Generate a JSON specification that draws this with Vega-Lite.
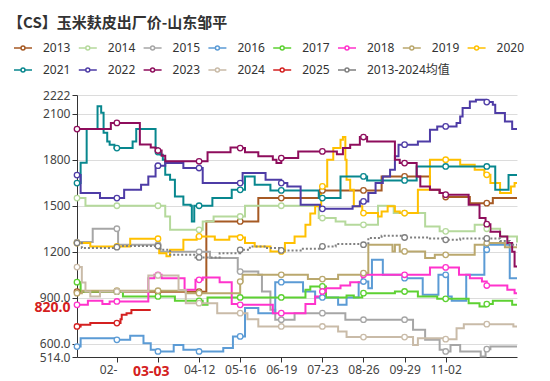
{
"$schema": "https://vega.github.io/schema/vega-lite/v6.json",
"width": 440, "height": 262,
"autosize": {"type": "none"},
"padding": {"left": 77, "top": 95, "right": 33, "bottom": 24},
"background": "white",
"config": {"view": {"stroke": null}, "font": "Noto Sans, Noto Sans CJK SC", "axis": {"labelFont": "Noto Sans, Noto Sans CJK SC", "labelColor": "#444", "domainColor": "#333", "tickColor": "#333", "gridColor": "#dcdcdc", "labelOverlap": false}},
"title": {"text": "【CS】玉米麸皮出厂价-山东邹平", "anchor": "start", "frame": "group", "dx": -69, "offset": 7, "font": "Noto Sans CJK SC", "fontSize": 15, "fontWeight": "bold", "color": "#333"},
"data": {"format": {"parse": {"d": "utc:'%m-%d'"}}, "values": [
{"s":"2013","d":"01-01","v":940},{"s":"2013","d":"02-03","v":940},{"s":"2013","d":"03-09","v":940},{"s":"2013","d":"04-12","v":940},{"s":"2013","d":"04-18","v":1398},{"s":"2013","d":"05-16","v":1398},{"s":"2013","d":"05-31","v":1550},{"s":"2013","d":"06-19","v":1550},{"s":"2013","d":"07-21","v":1600},{"s":"2013","d":"07-23","v":1600},{"s":"2013","d":"08-26","v":1600},{"s":"2013","d":"09-10","v":1691},{"s":"2013","d":"09-29","v":1691},{"s":"2013","d":"10-20","v":1604},{"s":"2013","d":"10-28","v":1583},{"s":"2013","d":"11-01","v":1557},{"s":"2013","d":"11-02","v":1557},{"s":"2013","d":"11-22","v":1517},{"s":"2013","d":"12-06","v":1517},{"s":"2013","d":"12-11","v":1550},{"s":"2013","d":"12-31","v":1550},
{"s":"2014","d":"01-01","v":1550},{"s":"2014","d":"01-08","v":1500},{"s":"2014","d":"02-03","v":1500},{"s":"2014","d":"03-09","v":1500},{"s":"2014","d":"03-15","v":1430},{"s":"2014","d":"03-19","v":1343},{"s":"2014","d":"04-12","v":1343},{"s":"2014","d":"04-15","v":1398},{"s":"2014","d":"04-24","v":1430},{"s":"2014","d":"05-16","v":1430},{"s":"2014","d":"05-20","v":1500},{"s":"2014","d":"06-19","v":1500},{"s":"2014","d":"07-20","v":1420},{"s":"2014","d":"07-23","v":1420},{"s":"2014","d":"08-03","v":1398},{"s":"2014","d":"08-11","v":1376},{"s":"2014","d":"08-26","v":1376},{"s":"2014","d":"09-07","v":1500},{"s":"2014","d":"09-20","v":1452},{"s":"2014","d":"09-29","v":1452},{"s":"2014","d":"10-16","v":1365},{"s":"2014","d":"10-28","v":1333},{"s":"2014","d":"11-02","v":1333},{"s":"2014","d":"11-26","v":1376},{"s":"2014","d":"12-06","v":1350},{"s":"2014","d":"12-17","v":1300},{"s":"2014","d":"12-31","v":1260},
{"s":"2015","d":"01-01","v":1263},{"s":"2015","d":"01-14","v":1350},{"s":"2015","d":"02-03","v":1350},{"s":"2015","d":"02-04","v":1246},{"s":"2015","d":"03-09","v":1246},{"s":"2015","d":"03-11","v":1200},{"s":"2015","d":"04-12","v":1200},{"s":"2015","d":"04-21","v":1159},{"s":"2015","d":"05-14","v":1071},{"s":"2015","d":"05-16","v":1071},{"s":"2015","d":"05-31","v":1050},{"s":"2015","d":"06-03","v":941},{"s":"2015","d":"06-10","v":822},{"s":"2015","d":"06-14","v":757},{"s":"2015","d":"06-19","v":757},{"s":"2015","d":"06-30","v":800},{"s":"2015","d":"07-23","v":800},{"s":"2015","d":"08-11","v":757},{"s":"2015","d":"08-26","v":757},{"s":"2015","d":"09-29","v":757},{"s":"2015","d":"10-06","v":691},{"s":"2015","d":"10-16","v":626},{"s":"2015","d":"10-28","v":561},{"s":"2015","d":"11-02","v":550},{"s":"2015","d":"11-06","v":593},{"s":"2015","d":"11-14","v":550},{"s":"2015","d":"12-01","v":517},{"s":"2015","d":"12-05","v":565},{"s":"2015","d":"12-06","v":565},{"s":"2015","d":"12-09","v":582},{"s":"2015","d":"12-31","v":582},
{"s":"2016","d":"01-01","v":582},{"s":"2016","d":"01-04","v":637},{"s":"2016","d":"02-03","v":626},{"s":"2016","d":"02-14","v":652},{"s":"2016","d":"02-25","v":604},{"s":"2016","d":"03-03","v":561},{"s":"2016","d":"03-08","v":550},{"s":"2016","d":"03-09","v":550},{"s":"2016","d":"03-22","v":593},{"s":"2016","d":"03-30","v":561},{"s":"2016","d":"04-12","v":550},{"s":"2016","d":"05-02","v":572},{"s":"2016","d":"05-10","v":648},{"s":"2016","d":"05-16","v":648},{"s":"2016","d":"05-20","v":833},{"s":"2016","d":"05-31","v":800},{"s":"2016","d":"06-14","v":1002},{"s":"2016","d":"06-19","v":1002},{"s":"2016","d":"07-07","v":941},{"s":"2016","d":"07-17","v":902},{"s":"2016","d":"07-23","v":902},{"s":"2016","d":"08-05","v":854},{"s":"2016","d":"08-12","v":902},{"s":"2016","d":"08-22","v":1002},{"s":"2016","d":"08-26","v":1006},{"s":"2016","d":"08-30","v":963},{"s":"2016","d":"09-02","v":1148},{"s":"2016","d":"09-11","v":1050},{"s":"2016","d":"09-29","v":1028},{"s":"2016","d":"10-14","v":920},{"s":"2016","d":"10-27","v":1050},{"s":"2016","d":"11-02","v":1050},{"s":"2016","d":"11-04","v":909},{"s":"2016","d":"11-07","v":880},{"s":"2016","d":"11-19","v":1050},{"s":"2016","d":"12-04","v":1246},{"s":"2016","d":"12-06","v":1213},{"s":"2016","d":"12-07","v":1246},{"s":"2016","d":"12-25","v":1028},{"s":"2016","d":"12-31","v":1028},
{"s":"2017","d":"01-01","v":1002},{"s":"2017","d":"01-04","v":941},{"s":"2017","d":"02-03","v":941},{"s":"2017","d":"02-08","v":909},{"s":"2017","d":"03-09","v":909},{"s":"2017","d":"03-23","v":880},{"s":"2017","d":"04-12","v":880},{"s":"2017","d":"04-15","v":854},{"s":"2017","d":"04-19","v":902},{"s":"2017","d":"05-16","v":902},{"s":"2017","d":"06-19","v":902},{"s":"2017","d":"07-09","v":952},{"s":"2017","d":"07-13","v":974},{"s":"2017","d":"07-23","v":974},{"s":"2017","d":"07-26","v":902},{"s":"2017","d":"08-12","v":915},{"s":"2017","d":"08-18","v":902},{"s":"2017","d":"08-25","v":930},{"s":"2017","d":"08-26","v":930},{"s":"2017","d":"09-21","v":941},{"s":"2017","d":"09-29","v":941},{"s":"2017","d":"10-10","v":909},{"s":"2017","d":"10-26","v":893},{"s":"2017","d":"11-02","v":893},{"s":"2017","d":"11-21","v":865},{"s":"2017","d":"11-30","v":843},{"s":"2017","d":"12-05","v":859},{"s":"2017","d":"12-06","v":859},{"s":"2017","d":"12-11","v":880},{"s":"2017","d":"12-27","v":854},{"s":"2017","d":"12-31","v":854},
{"s":"2018","d":"01-01","v":854},{"s":"2018","d":"01-10","v":880},{"s":"2018","d":"01-22","v":859},{"s":"2018","d":"01-28","v":876},{"s":"2018","d":"02-03","v":876},{"s":"2018","d":"03-01","v":1028},{"s":"2018","d":"03-06","v":1050},{"s":"2018","d":"03-09","v":1050},{"s":"2018","d":"03-12","v":1028},{"s":"2018","d":"03-31","v":952},{"s":"2018","d":"04-09","v":1017},{"s":"2018","d":"04-12","v":1017},{"s":"2018","d":"04-15","v":1033},{"s":"2018","d":"04-29","v":1002},{"s":"2018","d":"05-09","v":859},{"s":"2018","d":"05-16","v":854},{"s":"2018","d":"06-12","v":800},{"s":"2018","d":"06-19","v":800},{"s":"2018","d":"07-09","v":859},{"s":"2018","d":"07-17","v":909},{"s":"2018","d":"07-22","v":941},{"s":"2018","d":"07-23","v":941},{"s":"2018","d":"07-26","v":963},{"s":"2018","d":"08-07","v":980},{"s":"2018","d":"08-15","v":1002},{"s":"2018","d":"08-25","v":1050},{"s":"2018","d":"08-26","v":1050},{"s":"2018","d":"09-29","v":1050},{"s":"2018","d":"10-20","v":1098},{"s":"2018","d":"11-02","v":1098},{"s":"2018","d":"11-13","v":1050},{"s":"2018","d":"11-22","v":1028},{"s":"2018","d":"12-02","v":1006},{"s":"2018","d":"12-06","v":980},{"s":"2018","d":"12-23","v":952},{"s":"2018","d":"12-29","v":930},{"s":"2018","d":"12-31","v":930},
{"s":"2019","d":"01-01","v":930},{"s":"2019","d":"01-05","v":946},{"s":"2019","d":"02-03","v":946},{"s":"2019","d":"03-09","v":946},{"s":"2019","d":"04-01","v":930},{"s":"2019","d":"04-12","v":930},{"s":"2019","d":"05-14","v":930},{"s":"2019","d":"05-16","v":1006},{"s":"2019","d":"05-18","v":1050},{"s":"2019","d":"06-19","v":1050},{"s":"2019","d":"07-11","v":1022},{"s":"2019","d":"07-23","v":1022},{"s":"2019","d":"08-05","v":1050},{"s":"2019","d":"08-25","v":1061},{"s":"2019","d":"08-26","v":1061},{"s":"2019","d":"08-30","v":1246},{"s":"2019","d":"09-19","v":1202},{"s":"2019","d":"09-21","v":1246},{"s":"2019","d":"09-25","v":1202},{"s":"2019","d":"09-29","v":1202},{"s":"2019","d":"10-16","v":1159},{"s":"2019","d":"10-24","v":1180},{"s":"2019","d":"11-02","v":1180},{"s":"2019","d":"11-26","v":1246},{"s":"2019","d":"12-06","v":1257},{"s":"2019","d":"12-21","v":1230},{"s":"2019","d":"12-31","v":1230},
{"s":"2020","d":"01-01","v":1257},{"s":"2020","d":"01-12","v":1235},{"s":"2020","d":"02-03","v":1235},{"s":"2020","d":"02-14","v":1285},{"s":"2020","d":"03-09","v":1285},{"s":"2020","d":"03-10","v":1191},{"s":"2020","d":"03-16","v":1170},{"s":"2020","d":"03-19","v":1213},{"s":"2020","d":"03-30","v":1278},{"s":"2020","d":"04-10","v":1300},{"s":"2020","d":"04-12","v":1300},{"s":"2020","d":"04-25","v":1278},{"s":"2020","d":"05-07","v":1300},{"s":"2020","d":"05-16","v":1293},{"s":"2020","d":"05-20","v":1257},{"s":"2020","d":"05-28","v":1235},{"s":"2020","d":"06-10","v":1202},{"s":"2020","d":"06-19","v":1202},{"s":"2020","d":"06-22","v":1257},{"s":"2020","d":"06-30","v":1300},{"s":"2020","d":"07-09","v":1376},{"s":"2020","d":"07-13","v":1450},{"s":"2020","d":"07-17","v":1496},{"s":"2020","d":"07-22","v":1626},{"s":"2020","d":"07-23","v":1626},{"s":"2020","d":"07-27","v":1800},{"s":"2020","d":"08-01","v":1876},{"s":"2020","d":"08-07","v":1930},{"s":"2020","d":"08-09","v":1948},{"s":"2020","d":"08-11","v":1800},{"s":"2020","d":"08-12","v":1670},{"s":"2020","d":"08-15","v":1604},{"s":"2020","d":"08-18","v":1496},{"s":"2020","d":"08-25","v":1463},{"s":"2020","d":"08-26","v":1452},{"s":"2020","d":"09-07","v":1430},{"s":"2020","d":"09-10","v":1463},{"s":"2020","d":"09-15","v":1496},{"s":"2020","d":"09-21","v":1463},{"s":"2020","d":"09-25","v":1452},{"s":"2020","d":"09-29","v":1452},{"s":"2020","d":"10-10","v":1604},{"s":"2020","d":"10-20","v":1800},{"s":"2020","d":"11-02","v":1800},{"s":"2020","d":"11-14","v":1767},{"s":"2020","d":"11-26","v":1735},{"s":"2020","d":"12-04","v":1702},{"s":"2020","d":"12-06","v":1702},{"s":"2020","d":"12-09","v":1648},{"s":"2020","d":"12-17","v":1583},{"s":"2020","d":"12-26","v":1626},{"s":"2020","d":"12-29","v":1648},{"s":"2020","d":"12-31","v":1648},
{"s":"2021","d":"01-01","v":1648},{"s":"2021","d":"01-04","v":1780},{"s":"2021","d":"01-09","v":2000},{"s":"2021","d":"01-18","v":2148},{"s":"2021","d":"01-21","v":2106},{"s":"2021","d":"01-23","v":1976},{"s":"2021","d":"01-26","v":1919},{"s":"2021","d":"01-28","v":1898},{"s":"2021","d":"02-01","v":1876},{"s":"2021","d":"02-03","v":1876},{"s":"2021","d":"02-16","v":1919},{"s":"2021","d":"02-19","v":2000},{"s":"2021","d":"03-04","v":2000},{"s":"2021","d":"03-07","v":1876},{"s":"2021","d":"03-09","v":1850},{"s":"2021","d":"03-11","v":1833},{"s":"2021","d":"03-13","v":1800},{"s":"2021","d":"03-15","v":1702},{"s":"2021","d":"03-19","v":1670},{"s":"2021","d":"03-23","v":1561},{"s":"2021","d":"03-30","v":1506},{"s":"2021","d":"04-05","v":1500},{"s":"2021","d":"04-06","v":1398},{"s":"2021","d":"04-08","v":1500},{"s":"2021","d":"04-12","v":1500},{"s":"2021","d":"04-23","v":1550},{"s":"2021","d":"05-09","v":1604},{"s":"2021","d":"05-16","v":1604},{"s":"2021","d":"05-20","v":1691},{"s":"2021","d":"05-28","v":1637},{"s":"2021","d":"06-10","v":1600},{"s":"2021","d":"06-19","v":1600},{"s":"2021","d":"07-20","v":1550},{"s":"2021","d":"07-23","v":1550},{"s":"2021","d":"08-07","v":1691},{"s":"2021","d":"08-26","v":1691},{"s":"2021","d":"08-29","v":1665},{"s":"2021","d":"09-29","v":1665},{"s":"2021","d":"10-09","v":1756},{"s":"2021","d":"11-02","v":1756},{"s":"2021","d":"12-06","v":1756},{"s":"2021","d":"12-13","v":1604},{"s":"2021","d":"12-24","v":1700},{"s":"2021","d":"12-31","v":1700},
{"s":"2022","d":"01-01","v":1700},{"s":"2022","d":"01-04","v":1583},{"s":"2022","d":"01-20","v":1550},{"s":"2022","d":"02-03","v":1550},{"s":"2022","d":"02-09","v":1604},{"s":"2022","d":"02-23","v":1637},{"s":"2022","d":"03-01","v":1691},{"s":"2022","d":"03-07","v":1761},{"s":"2022","d":"03-09","v":1761},{"s":"2022","d":"03-15","v":1778},{"s":"2022","d":"03-30","v":1746},{"s":"2022","d":"04-12","v":1746},{"s":"2022","d":"04-15","v":1648},{"s":"2022","d":"05-16","v":1648},{"s":"2022","d":"05-18","v":1713},{"s":"2022","d":"06-06","v":1670},{"s":"2022","d":"06-19","v":1648},{"s":"2022","d":"06-24","v":1626},{"s":"2022","d":"07-05","v":1506},{"s":"2022","d":"07-21","v":1480},{"s":"2022","d":"07-23","v":1480},{"s":"2022","d":"08-17","v":1496},{"s":"2022","d":"08-23","v":1528},{"s":"2022","d":"08-26","v":1528},{"s":"2022","d":"08-30","v":1583},{"s":"2022","d":"09-05","v":1648},{"s":"2022","d":"09-11","v":1691},{"s":"2022","d":"09-17","v":1735},{"s":"2022","d":"09-21","v":1822},{"s":"2022","d":"09-24","v":1898},{"s":"2022","d":"09-29","v":1898},{"s":"2022","d":"10-10","v":1919},{"s":"2022","d":"10-20","v":1996},{"s":"2022","d":"10-26","v":2017},{"s":"2022","d":"11-02","v":2017},{"s":"2022","d":"11-11","v":2039},{"s":"2022","d":"11-14","v":2082},{"s":"2022","d":"11-16","v":2137},{"s":"2022","d":"11-22","v":2180},{"s":"2022","d":"11-27","v":2191},{"s":"2022","d":"12-05","v":2176},{"s":"2022","d":"12-06","v":2176},{"s":"2022","d":"12-11","v":2159},{"s":"2022","d":"12-13","v":2105},{"s":"2022","d":"12-21","v":2050},{"s":"2022","d":"12-27","v":2000},{"s":"2022","d":"12-31","v":2000},
{"s":"2023","d":"01-01","v":2000},{"s":"2023","d":"01-28","v":2000},{"s":"2023","d":"01-29","v":2040},{"s":"2023","d":"02-03","v":2040},{"s":"2023","d":"02-22","v":1900},{"s":"2023","d":"03-03","v":1880},{"s":"2023","d":"03-07","v":1860},{"s":"2023","d":"03-09","v":1860},{"s":"2023","d":"03-12","v":1826},{"s":"2023","d":"03-15","v":1790},{"s":"2023","d":"04-12","v":1790},{"s":"2023","d":"04-19","v":1848},{"s":"2023","d":"05-08","v":1880},{"s":"2023","d":"05-16","v":1876},{"s":"2023","d":"05-20","v":1848},{"s":"2023","d":"05-31","v":1822},{"s":"2023","d":"06-12","v":1800},{"s":"2023","d":"06-15","v":1778},{"s":"2023","d":"06-19","v":1811},{"s":"2023","d":"07-03","v":1854},{"s":"2023","d":"07-23","v":1854},{"s":"2023","d":"08-04","v":1835},{"s":"2023","d":"08-09","v":1876},{"s":"2023","d":"08-15","v":1898},{"s":"2023","d":"08-23","v":1948},{"s":"2023","d":"08-26","v":1948},{"s":"2023","d":"08-29","v":1919},{"s":"2023","d":"09-21","v":1800},{"s":"2023","d":"09-25","v":1778},{"s":"2023","d":"09-29","v":1778},{"s":"2023","d":"10-09","v":1691},{"s":"2023","d":"10-12","v":1626},{"s":"2023","d":"10-20","v":1604},{"s":"2023","d":"10-28","v":1583},{"s":"2023","d":"11-02","v":1572},{"s":"2023","d":"11-21","v":1506},{"s":"2023","d":"11-30","v":1420},{"s":"2023","d":"12-05","v":1376},{"s":"2023","d":"12-06","v":1380},{"s":"2023","d":"12-09","v":1330},{"s":"2023","d":"12-17","v":1300},{"s":"2023","d":"12-23","v":1257},{"s":"2023","d":"12-27","v":1200},{"s":"2023","d":"12-29","v":1104},{"s":"2023","d":"12-31","v":1104},
{"s":"2024","d":"01-01","v":1100},{"s":"2024","d":"01-05","v":1000},{"s":"2024","d":"01-08","v":941},{"s":"2024","d":"01-12","v":909},{"s":"2024","d":"01-20","v":941},{"s":"2024","d":"02-03","v":941},{"s":"2024","d":"03-01","v":1046},{"s":"2024","d":"03-09","v":1046},{"s":"2024","d":"03-26","v":950},{"s":"2024","d":"04-01","v":865},{"s":"2024","d":"04-12","v":865},{"s":"2024","d":"04-27","v":800},{"s":"2024","d":"05-16","v":800},{"s":"2024","d":"05-22","v":760},{"s":"2024","d":"05-31","v":713},{"s":"2024","d":"06-19","v":713},{"s":"2024","d":"07-23","v":713},{"s":"2024","d":"08-05","v":680},{"s":"2024","d":"08-12","v":644},{"s":"2024","d":"08-26","v":644},{"s":"2024","d":"09-29","v":644},{"s":"2024","d":"10-06","v":593},{"s":"2024","d":"10-10","v":637},{"s":"2024","d":"11-02","v":630},{"s":"2024","d":"11-11","v":702},{"s":"2024","d":"11-17","v":728},{"s":"2024","d":"12-06","v":728},{"s":"2024","d":"12-28","v":713},{"s":"2024","d":"12-31","v":713},
{"s":"2025","d":"01-01","v":713},{"s":"2025","d":"01-04","v":724},{"s":"2025","d":"01-12","v":735},{"s":"2025","d":"02-03","v":735},{"s":"2025","d":"02-06","v":760},{"s":"2025","d":"02-07","v":789},{"s":"2025","d":"02-11","v":800},{"s":"2025","d":"02-15","v":820},{"s":"2025","d":"03-03","v":820},
{"s":"2013-2024均值","d":"01-01","v":1257},{"s":"2013-2024均值","d":"01-05","v":1224},{"s":"2013-2024均值","d":"02-03","v":1230},{"s":"2013-2024均值","d":"02-05","v":1237},{"s":"2013-2024均值","d":"03-09","v":1237},{"s":"2013-2024均值","d":"03-11","v":1213},{"s":"2013-2024均值","d":"03-19","v":1180},{"s":"2013-2024均值","d":"04-09","v":1163},{"s":"2013-2024均值","d":"04-12","v":1163},{"s":"2013-2024均值","d":"04-29","v":1190},{"s":"2013-2024均值","d":"05-16","v":1213},{"s":"2013-2024均值","d":"05-24","v":1235},{"s":"2013-2024均值","d":"06-06","v":1225},{"s":"2013-2024均值","d":"06-19","v":1209},{"s":"2013-2024均值","d":"07-05","v":1220},{"s":"2013-2024均值","d":"07-23","v":1235},{"s":"2013-2024均值","d":"08-03","v":1250},{"s":"2013-2024均值","d":"08-26","v":1246},{"s":"2013-2024均值","d":"08-30","v":1290},{"s":"2013-2024均值","d":"09-10","v":1304},{"s":"2013-2024均值","d":"09-29","v":1293},{"s":"2013-2024均值","d":"10-20","v":1287},{"s":"2013-2024均值","d":"11-02","v":1278},{"s":"2013-2024均值","d":"11-14","v":1287},{"s":"2013-2024均值","d":"12-06","v":1287},{"s":"2013-2024均值","d":"12-17","v":1270},{"s":"2013-2024均值","d":"12-25","v":1246},{"s":"2013-2024均值","d":"12-31","v":1246}
]},
"encoding": {
  "x": {"field": "d", "type": "temporal",
   "scale": {"type": "utc", "domain": [{"year": 1900, "month": 1, "date": 1, "utc": true}, {"year": 1900, "month": 12, "date": 31, "utc": true}]},
   "axis": {"title": null, "grid": false, "labelOverlap": false, "labelFlush": false, "tickSize": 5, "tickCount": 30,
    "values": [{"year": 1900, "month": 2, "date": 3, "utc": true}, {"year": 1900, "month": 3, "date": 3, "utc": true}, {"year": 1900, "month": 3, "date": 9, "utc": true}, {"year": 1900, "month": 4, "date": 12, "utc": true}, {"year": 1900, "month": 5, "date": 16, "utc": true}, {"year": 1900, "month": 6, "date": 19, "utc": true}, {"year": 1900, "month": 7, "date": 23, "utc": true}, {"year": 1900, "month": 8, "date": 26, "utc": true}, {"year": 1900, "month": 9, "date": 29, "utc": true}, {"year": 1900, "month": 11, "date": 2, "utc": true}],
    "labelExpr": "utcFormat(datum.value, '%m-%d') == '02-03' ? '02-' : (utcFormat(datum.value, '%m-%d') == '03-09' ? '' : utcFormat(datum.value, '%m-%d'))",
    "labelAlign": {"condition": {"test": "utcFormat(datum.value, '%m-%d') == '02-03'", "value": "right"}, "value": "center"},
    "labelColor": {"condition": {"test": "utcFormat(datum.value, '%m-%d') == '03-03'", "value": "#d42020"}, "value": "#444"},
    "labelFontWeight": {"condition": {"test": "utcFormat(datum.value, '%m-%d') == '03-03'", "value": "bold"}, "value": "normal"},
    "labelFontSize": {"condition": {"test": "utcFormat(datum.value, '%m-%d') == '03-03'", "value": 14}, "value": 12},
    "tickOpacity": {"condition": {"test": "utcFormat(datum.value, '%m-%d') == '03-03'", "value": 0}, "value": 1}
   }
  },
  "y": {"field": "v", "type": "quantitative",
   "scale": {"domain": [514, 2222], "nice": false, "zero": false},
   "axis": {"title": null, "labelOverlap": false, "tickSize": 5, "tickCount": 30,
    "values": [514, 600, 820, 900, 1200, 1500, 1800, 2100, 2222],
    "labelExpr": "datum.value < 1000 ? format(datum.value, '.1f') : format(datum.value, 'd')",
    "labelColor": {"condition": {"test": "datum.value == 820", "value": "#d42020"}, "value": "#444"},
    "labelFontWeight": {"condition": {"test": "datum.value == 820", "value": "bold"}, "value": "normal"},
    "labelFontSize": {"condition": {"test": "datum.value == 820", "value": 14}, "value": 12},
    "labelOffset": {"condition": {"test": "datum.value == 820", "value": -3}, "value": 0},
    "gridOpacity": {"condition": {"test": "datum.value == 820 || datum.value == 514", "value": 0}, "value": 1},
    "tickOpacity": {"condition": {"test": "datum.value == 820", "value": 0}, "value": 1}
   }
  }
},
"layer": [
{
 "data": {"values": [{"t": "紫金天风期货"}]},
 "mark": {"type": "text", "font": "Noto Sans CJK SC", "fontSize": 22, "color": "#b4b4b4", "opacity": 0.8, "clip": false},
 "encoding": {
  "text": {"field": "t"},
  "x": {"datum": {"year": 1900, "month": 6, "date": 15, "utc": true}, "type": "temporal", "axis": {"labelOverlap": false, "tickCount": 30}},
  "y": {"datum": 1650, "type": "quantitative", "axis": {"labelOverlap": false, "tickCount": 30}}
 }
},
{
 "transform": [{"filter": {"field": "s", "oneOf": ["2013","2014","2015","2016","2017","2018","2019","2020"]}}],
 "mark": {"type": "line", "interpolate": "step-after", "strokeWidth": 2},
 "encoding": {
  "color": {
   "field": "s", "type": "nominal",
   "scale": {"domain": ["2013","2014","2015","2016","2017","2018","2019","2020"],
             "range": ["#a65a24","#b5d99c","#a6a6a6","#5b9bd5","#5dd132","#ff33cc","#baa86e","#ffc000"]},
   "legend": {
    "title": null, "orient": "none", "legendX": -64, "legendY": -57, "direction": "horizontal", "columns": 8,
    "columnPadding": 4.8, "padding": 0, "labelFontSize": 12, "labelColor": "#333", "labelFont": "Noto Sans, Noto Sans CJK SC",
    "symbolType": "M-1,0H-0.22M0.22,0H1M0.22,0A0.22,0.22,0,1,1,-0.22,0A0.22,0.22,0,1,1,0.22,0",
    "symbolSize": 324, "symbolStrokeWidth": 1.5, "labelOffset": 10,
    "encode": {"symbols": {"update": {"fill": {"value": "white"}, "opacity": {"value": 1}}}}
   }
  }
 }
},
{
 "transform": [{"filter": {"field": "s", "oneOf": ["2021","2022","2023","2024","2025","2013-2024均值"]}}],
 "mark": {"type": "line", "interpolate": "step-after", "strokeWidth": 2},
 "encoding": {
  "stroke": {
   "field": "s", "type": "nominal",
   "scale": {"domain": ["2021","2022","2023","2024","2025","2013-2024均值"],
             "range": ["#08878e","#4e3ca6","#8e0d5c","#c9bba8","#d42020","#808080"]},
   "legend": {
    "title": null, "orient": "none", "legendX": -64, "legendY": -35, "direction": "horizontal", "columns": 6,
    "columnPadding": 4.8, "padding": 0, "labelFontSize": 12, "labelColor": "#333", "labelFont": "Noto Sans, Noto Sans CJK SC",
    "symbolType": "M-1,0H-0.22M0.22,0H1M0.22,0A0.22,0.22,0,1,1,-0.22,0A0.22,0.22,0,1,1,0.22,0",
    "symbolSize": 324, "symbolStrokeWidth": 1.5, "labelOffset": 10,
    "encode": {"symbols": {"update": {"fill": {"value": "white"}, "strokeDash": {"value": []}, "strokeWidth": {"value": 1.5}, "opacity": {"value": 1}}}}
   }
  },
  "strokeDash": {"condition": {"test": "datum.s == '2013-2024均值'", "value": [2, 2]}, "value": [1, 0]},
  "strokeWidth": {"condition": {"test": "datum.s == '2025'", "value": 5}, "value": 2}
 }
},
{
 "transform": [{"filter": {"field": "s", "oneOf": ["2013","2014","2015","2016","2017","2018","2019","2020"]}},
               {"filter": "indexof(['01-01','02-03','03-09','04-12','05-16','06-19','07-23','08-26','09-29','11-02','12-06'], utcFormat(datum.d, '%m-%d')) >= 0"}],
 "mark": {"type": "point", "shape": "circle", "filled": false, "fill": "white", "size": 30, "strokeWidth": 1.3, "opacity": 1},
 "encoding": {"color": {"field": "s", "type": "nominal"}}
},
{
 "transform": [{"filter": {"field": "s", "oneOf": ["2021","2022","2023","2024","2025","2013-2024均值"]}},
               {"filter": "indexof(['01-01','02-03','03-09','04-12','05-16','06-19','07-23','08-26','09-29','11-02','12-06'], utcFormat(datum.d, '%m-%d')) >= 0"}],
 "mark": {"type": "point", "shape": "circle", "filled": false, "fill": "white", "size": 30, "strokeWidth": 1.3, "opacity": 1},
 "encoding": {"stroke": {"field": "s", "type": "nominal"}}
},
{
 "data": {"values": [{}]},
 "mark": {"type": "rule", "color": "#aaaaaa", "strokeWidth": 1, "clip": false},
 "encoding": {
  "x": {"datum": {"year": 1899, "month": 11, "date": 7, "utc": true}, "type": "temporal", "axis": {"labelOverlap": false, "tickCount": 30}},
  "x2": {"datum": {"year": 1901, "month": 1, "date": 19, "utc": true}},
  "y": {"datum": 2598, "type": "quantitative", "axis": {"labelOverlap": false, "tickCount": 30}}
 }
}
]
}
